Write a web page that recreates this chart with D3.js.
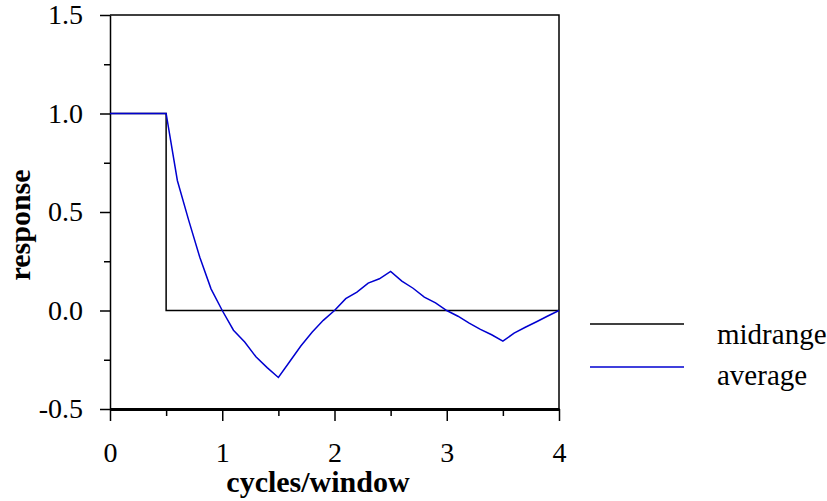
<!DOCTYPE html>
<html>
<head>
<meta charset="utf-8">
<script src="https://cdn.jsdelivr.net/npm/d3@7"></script>
<style>
  body { margin: 0; background: #fff; }
  text { font-family: "Liberation Serif", "Times New Roman", serif; }
</style>
</head>
<body>
<div id="chart"></div>
<script>
// cycles/window
var freq = [0, 0.1, 0.2, 0.3, 0.4, 0.5, 0.6, 0.7, 0.8, 0.9, 1.0,
            1.1, 1.2, 1.3, 1.4, 1.5, 1.6, 1.7, 1.8, 1.9, 2.0,
            2.1, 2.2, 2.3, 2.4, 2.5, 2.6, 2.7, 2.8, 2.9, 3.0,
            3.1, 3.2, 3.3, 3.4, 3.5, 3.6, 3.7, 3.8, 3.9, 4.0];
// response of the average filter
var average = [1, 1, 1, 1, 1, 1, 0.66, 0.46, 0.27, 0.11, 0.0,
               -0.10, -0.16, -0.235, -0.29, -0.34, -0.26, -0.18, -0.11, -0.05, 0.0,
               0.06, 0.093, 0.139, 0.161, 0.198, 0.149, 0.113, 0.068, 0.039, 0.0,
               -0.029, -0.064, -0.096, -0.123, -0.156, -0.115, -0.085, -0.057, -0.028, 0.0];
// midrange is an ideal step
var midFreq = [0, 0.5, 0.5, 4];
var midrange = [1, 1, 0, 0];

var seriesNames = ["midrange", "average"];
var seriesColors = ["#000000", "#0000d0"];

var xTicks = [0, 1, 2, 3, 4];
var xMinor = [0.5, 1.5, 2.5, 3.5];
var yTicks = [-0.5, 0.0, 0.5, 1.0, 1.5];
var yMinor = [-0.25, 0.25, 0.75, 1.25];

var width = 827, height = 501;
var fontSize = 28, titleSize = 30;

var svg = d3.select("#chart").append("svg")
    .attr("width", width)
    .attr("height", height);

var x = d3.scaleLinear().domain([0, 4]).range([110, 559]);
var y = d3.scaleLinear().domain([-0.5, 1.5]).range([409, 15]);

// frame: top and right
svg.append("path")
    .attr("d", "M" + x(0) + "," + y(1.5) + "H" + x(4) + "V" + y(-0.5))
    .attr("fill", "none")
    .attr("stroke", "#000")
    .attr("stroke-width", 1.5);

// y axis
var yAxis = svg.append("g")
    .attr("transform", "translate(" + x(0) + ",0)")
    .call(d3.axisLeft(y).tickValues(yTicks).tickSize(10).tickSizeOuter(0)
        .tickFormat(function(d) { return d.toFixed(1); }).tickPadding(17));
yAxis.select(".domain").attr("stroke-width", 1.5);
yAxis.selectAll(".tick line").attr("stroke-width", 1.5);
yAxis.selectAll(".tick text").attr("font-size", fontSize).attr("fill", "#000");

var yAxisMinor = svg.append("g")
    .attr("transform", "translate(" + x(0) + ",0)")
    .call(d3.axisLeft(y).tickValues(yMinor).tickSize(6).tickFormat(""));
yAxisMinor.select(".domain").remove();
yAxisMinor.selectAll(".tick line").attr("stroke-width", 1.5);

// x axis
var xAxis = svg.append("g")
    .attr("transform", "translate(0," + y(-0.5) + ")")
    .call(d3.axisBottom(x).tickValues(xTicks).tickSize(12).tickSizeOuter(0)
        .tickFormat(d3.format("d")).tickPadding(21));
xAxis.select(".domain").attr("stroke-width", 3);
xAxis.selectAll(".tick line").attr("stroke-width", 1.5);
xAxis.selectAll(".tick text").attr("font-size", fontSize).attr("fill", "#000");

var xAxisMinor = svg.append("g")
    .attr("transform", "translate(0," + y(-0.5) + ")")
    .call(d3.axisBottom(x).tickValues(xMinor).tickSize(7).tickFormat(""));
xAxisMinor.select(".domain").remove();
xAxisMinor.selectAll(".tick line").attr("stroke-width", 1.5);

// lines
var line = d3.line()
    .x(function(d) { return x(d[0]); })
    .y(function(d) { return y(d[1]); });

svg.append("path")
    .datum(d3.zip(midFreq, midrange))
    .attr("d", line)
    .attr("fill", "none")
    .attr("stroke", seriesColors[0])
    .attr("stroke-width", 1.5);

svg.append("path")
    .datum(d3.zip(freq, average))
    .attr("d", line)
    .attr("fill", "none")
    .attr("stroke", seriesColors[1])
    .attr("stroke-width", 1.5);

// axis titles
svg.append("text")
    .attr("x", 318)
    .attr("y", 492)
    .attr("text-anchor", "middle")
    .attr("font-size", titleSize)
    .attr("font-weight", "bold")
    .text("cycles/window");

svg.append("text")
    .attr("transform", "translate(30,225) rotate(-90)")
    .attr("text-anchor", "middle")
    .attr("font-size", titleSize)
    .attr("font-weight", "bold")
    .text("response");

// legend
var legend = svg.selectAll(".legend")
    .data(seriesNames)
    .enter().append("g")
    .attr("class", "legend")
    .attr("transform", function(d, i) { return "translate(590," + (324 + i * 43) + ")"; });

legend.append("line")
    .attr("x1", 0).attr("x2", 94)
    .attr("y1", 0).attr("y2", 0)
    .attr("stroke", function(d, i) { return seriesColors[i]; })
    .attr("stroke-width", 1.5);

legend.append("text")
    .attr("x", 127)
    .attr("y", function(d, i) { return 20 - i * 2; })
    .attr("font-size", 29)
    .text(function(d) { return d; });
</script>
</body>
</html>
